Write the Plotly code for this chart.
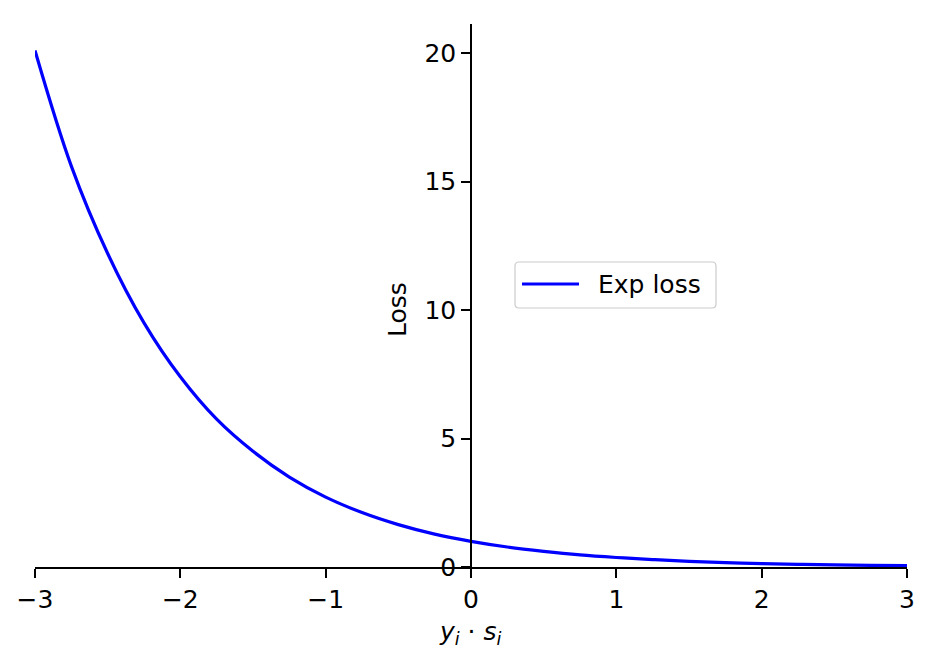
import plotly.graph_objects as go

# Values
x_vals = [-3, -2.75, -2.5, -2.25, -2, -1.75, -1.5, -1.25, -1, -0.75, -0.5, -0.25,
          0, 0.25, 0.5, 0.75, 1, 1.25, 1.5, 1.75, 2, 2.25, 2.5, 2.75, 3]
loss_vals = [20.1, 15.6, 12.2, 9.5, 7.4, 5.75, 4.5, 3.5, 2.72, 2.12, 1.65, 1.28,
             1.0, 0.78, 0.61, 0.47, 0.37, 0.29, 0.22, 0.17, 0.135, 0.105, 0.08, 0.065, 0.05]
x_ticks = [-3, -2, -1, 0, 1, 2, 3]
x_tick_text = ["\u22123", "\u22122", "\u22121", "0", "1", "2", "3"]
y_ticks = [0, 5, 10, 15, 20]
series_name = "Exp loss"

FONT = "DejaVu Sans"
fs = 25
OFF = 8  # page body margin
W, H = 948 - 2 * OFF, 670 - 2 * OFF
# plot area in window pixels
PL, PR, PT, PB = 35, 907, 24, 567
ml, mr, mt, mb = PL - OFF, W - (PR - OFF), PT - OFF, H - (PB - OFF)


def px(xw):
    return (xw - PL) / (PR - PL)


def py(yw):
    return (PB - yw) / (PB - PT)


fig = go.Figure()
fig.add_trace(go.Scatter(x=x_vals, y=loss_vals, mode="lines", name=series_name,
                         line=dict(color="#0000ff", width=3.2, shape="spline"),
                         cliponaxis=False, showlegend=False))

# legend box (rounded) drawn manually
bx0, bx1, by0, by1, r = 515, 716, 262, 308, 4
path = (f"M {px(bx0 + r)},{py(by0)} L {px(bx1 - r)},{py(by0)} "
        f"Q {px(bx1)},{py(by0)} {px(bx1)},{py(by0 + r)} "
        f"L {px(bx1)},{py(by1 - r)} Q {px(bx1)},{py(by1)} {px(bx1 - r)},{py(by1)} "
        f"L {px(bx0 + r)},{py(by1)} Q {px(bx0)},{py(by1)} {px(bx0)},{py(by1 - r)} "
        f"L {px(bx0)},{py(by0 + r)} Q {px(bx0)},{py(by0)} {px(bx0 + r)},{py(by0)} Z")

shapes = [
    dict(type="path", path=path, xref="paper", yref="paper",
         fillcolor="rgba(255,255,255,0.8)", line=dict(color="#cccccc", width=1.2)),
    dict(type="line", xref="paper", yref="paper", x0=px(522), x1=px(579),
         y0=py(284), y1=py(284), line=dict(color="#0000ff", width=3)),
]

fig.update_layout(
    width=W, height=H,
    margin=dict(l=ml, r=mr, t=mt, b=mb, pad=0, autoexpand=False),
    paper_bgcolor="white", plot_bgcolor="white",
    font=dict(family=FONT, size=fs, color="black"),
    showlegend=False,
    xaxis=dict(range=[-3, 3], tickvals=x_ticks, ticktext=x_tick_text,
               showgrid=False, zeroline=False, showline=True, linecolor="black",
               linewidth=1.5, ticks="outside", ticklen=9, tickwidth=1.5,
               tickcolor="black", tickfont=dict(size=fs), automargin=False),
    yaxis=dict(range=[0, 21.13], tickvals=y_ticks, showgrid=False, zeroline=False,
               showline=True, linecolor="black", linewidth=1.5, ticks="outside",
               ticklen=9, tickwidth=1.5, tickcolor="black", tickfont=dict(size=fs),
               anchor="free", position=0.5, automargin=False),
    shapes=shapes,
    annotations=[
        dict(text="Loss", x=px(397), y=py(310), xref="paper", yref="paper",
             showarrow=False, textangle=-90, font=dict(size=fs)),
        dict(text="<i>y</i><sub><i>i</i></sub> \u00b7 <i>s</i><sub><i>i</i></sub>",
             x=px(470), y=py(633), xref="paper", yref="paper", showarrow=False,
             xanchor="center", yanchor="middle", font=dict(size=fs)),
        dict(text=series_name, x=px(596), y=py(284), xref="paper", yref="paper",
             showarrow=False, xanchor="left", yanchor="middle", font=dict(size=fs)),
    ],
)

fig.write_html("out.html")
